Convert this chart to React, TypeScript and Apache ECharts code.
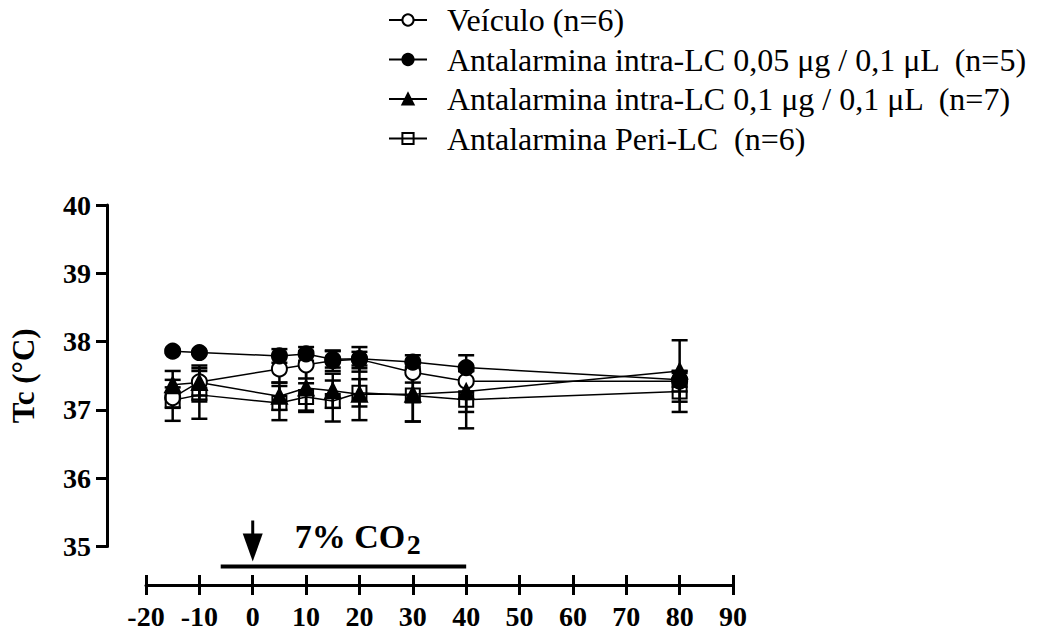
import React, { useEffect, useRef } from "react";
import * as echarts from "echarts";

const xTimes = [-15, -10, 5, 10, 15, 20, 30, 40, 80];

const veiculoMean = [37.18, 37.41, 37.6, 37.66, 37.72, 37.74, 37.55, 37.42, 37.42];
const veiculoSem = [0.15, 0.2, 0.2, 0.2, 0.15, 0.18, 0.15, 0.15, 0.15];

const dose005Mean = [37.86, 37.84, 37.79, 37.82, 37.74, 37.75, 37.7, 37.62, 37.44];
const dose005Sem = [0.02, 0.02, 0.1, 0.1, 0.12, 0.1, 0.1, 0.18, 0.1];

const dose01Mean = [37.37, 37.4, 37.2, 37.32, 37.28, 37.23, 37.23, 37.27, 37.57];
const dose01Sem = [0.2, 0.25, 0.2, 0.35, 0.25, 0.38, 0.4, 0.3, 0.45];

const periMean = [37.14, 37.22, 37.1, 37.19, 37.13, 37.25, 37.21, 37.15, 37.27];
const periSem = [0.3, 0.35, 0.25, 0.2, 0.3, 0.2, 0.38, 0.42, 0.3];

const seriesNames = [
  "Veículo (n=6)",
  "Antalarmina intra-LC 0,05 μg / 0,1 μL  (n=5)",
  "Antalarmina intra-LC 0,1 μg / 0,1 μL  (n=7)",
  "Antalarmina Peri-LC  (n=6)",
];

const FONT = "Liberation Serif";

export default function App() {
  const ref = useRef<HTMLDivElement>(null);

  useEffect(() => {
    if (!ref.current) return;
    const chart = echarts.init(ref.current, undefined, { renderer: "svg" });

    const groups = [
      { name: seriesNames[0], mean: veiculoMean, sem: veiculoSem, symbol: "circle", fill: "#fff" },
      { name: seriesNames[1], mean: dose005Mean, sem: dose005Sem, symbol: "circle", fill: "#000" },
      { name: seriesNames[2], mean: dose01Mean, sem: dose01Sem, symbol: "triangle", fill: "#000" },
      { name: seriesNames[3], mean: periMean, sem: periSem, symbol: "rect", fill: "none" },
    ];

    const errSeries = groups.map((g) => ({
      type: "custom",
      name: g.name + "_err",
      xAxisIndex: 0,
      yAxisIndex: 0,
      z: 1,
      encode: { x: 0, y: [1, 2] },
      data: xTimes.map((x, i) => [x, g.mean[i] - g.sem[i], g.mean[i] + g.sem[i]]),
      renderItem: (params: any, api: any) => {
        const x = api.value(0);
        const lo = api.coord([x, api.value(1)]);
        const hi = api.coord([x, api.value(2)]);
        const w = 8;
        const st = { stroke: "#000", lineWidth: 2.5 };
        return {
          type: "group",
          children: [
            { type: "line", shape: { x1: lo[0], y1: lo[1], x2: hi[0], y2: hi[1] }, style: st },
            { type: "line", shape: { x1: lo[0] - w, y1: lo[1], x2: lo[0] + w, y2: lo[1] }, style: st },
            { type: "line", shape: { x1: hi[0] - w, y1: hi[1], x2: hi[0] + w, y2: hi[1] }, style: st },
          ],
        };
      },
    }));

    const lineSeries = groups.map((g) => ({
      type: "line",
      name: g.name,
      xAxisIndex: 0,
      yAxisIndex: 0,
      z: 3,
      data: xTimes.map((x, i) => [x, g.mean[i]]),
      symbol: g.symbol,
      symbolSize: g.symbol === "rect" ? 14 : 15,
      lineStyle: { color: "#000", width: 1.5 },
      itemStyle: { color: g.fill, borderColor: "#000", borderWidth: 2 },
      emphasis: { disabled: true },
    }));

    chart.setOption({
      animation: false,
      backgroundColor: "#fff",
      legend: {
        orient: "vertical",
        left: 383,
        top: -1,
        itemWidth: 38,
        itemHeight: 14,
        itemGap: 7.5,
        data: seriesNames,
        textStyle: {
          fontFamily: FONT,
          fontSize: 32,
          lineHeight: 32,
          color: "#000",
          padding: [0, 0, 0, 15],
        },
        selectedMode: false,
      },
      grid: { left: 146, right: 304, top: 205, bottom: 85.5 },
      xAxis: [
        {
          type: "value",
          min: -20,
          max: 90,
          interval: 10,
          offset: 38.5,
          axisLine: { show: true, onZero: false, lineStyle: { color: "#000", width: 3 } },
          axisTick: { show: true, length: 10, lineStyle: { color: "#000", width: 3 } },
          axisLabel: {
            margin: 17,
            fontFamily: FONT,
            fontWeight: "bold",
            fontSize: 28,
            color: "#000",
            showMinLabel: true,
            showMaxLabel: true,
          },
          splitLine: { show: false },
        },
        {
          type: "value",
          min: -20,
          max: 90,
          interval: 10,
          position: "bottom",
          offset: 38.5,
          axisLine: { show: false, onZero: false },
          axisTick: { show: true, inside: true, length: 10, lineStyle: { color: "#000", width: 3 } },
          axisLabel: { show: false },
          splitLine: { show: false },
        },
      ],
      yAxis: {
        type: "value",
        min: 35,
        max: 40,
        interval: 1,
        offset: 39,
        name: "Tc (°C)",
        nameLocation: "middle",
        nameRotate: 90,
        nameGap: 68,
        nameTextStyle: { fontFamily: FONT, fontWeight: "bold", fontSize: 31, color: "#000" },
        axisLine: { show: true, onZero: false, lineStyle: { color: "#000", width: 3 } },
        axisTick: { show: true, length: 11, lineStyle: { color: "#000", width: 3 } },
        axisLabel: { margin: 16, fontFamily: FONT, fontWeight: "bold", fontSize: 28, color: "#000" },
        splitLine: { show: false },
      },
      series: [...errSeries, ...lineSeries],
    });

    const x0 = chart.convertToPixel({ xAxisIndex: 0 }, 0) as number;
    const xStart = chart.convertToPixel({ xAxisIndex: 0 }, -6) as number;
    const xEnd = chart.convertToPixel({ xAxisIndex: 0 }, 40) as number;
    const yBase = chart.convertToPixel({ yAxisIndex: 0 }, 35) as number;

    chart.setOption({
      graphic: [
        {
          type: "line",
          shape: { x1: xStart, y1: yBase + 20, x2: xEnd, y2: yBase + 20 },
          style: { stroke: "#000", lineWidth: 4 },
        },
        {
          type: "line",
          shape: { x1: x0, y1: yBase - 26, x2: x0, y2: yBase - 10 },
          style: { stroke: "#000", lineWidth: 3 },
        },
        {
          type: "polygon",
          shape: { points: [[x0 - 10, yBase - 13], [x0 + 10, yBase - 13], [x0, yBase + 15]] },
          style: { fill: "#000" },
        },
        {
          type: "text",
          x: x0 + 42,
          y: yBase - 10,
          style: {
            text: "7% CO",
            fontFamily: FONT,
            fontWeight: "bold",
            fontSize: 34,
            fill: "#000",
            textAlign: "left",
            textVerticalAlign: "middle",
          },
        },
        {
          type: "text",
          x: x0 + 154,
          y: yBase - 2,
          style: {
            text: "2",
            fontFamily: FONT,
            fontWeight: "bold",
            fontSize: 28,
            fill: "#000",
            textAlign: "left",
            textVerticalAlign: "middle",
          },
        },
      ],
    });

    return () => chart.dispose();
  }, []);

  return (
    <div
      ref={ref}
      style={{ position: "fixed", left: 0, top: 0, width: 1037, height: 632, background: "#fff" }}
    />
  );
}
